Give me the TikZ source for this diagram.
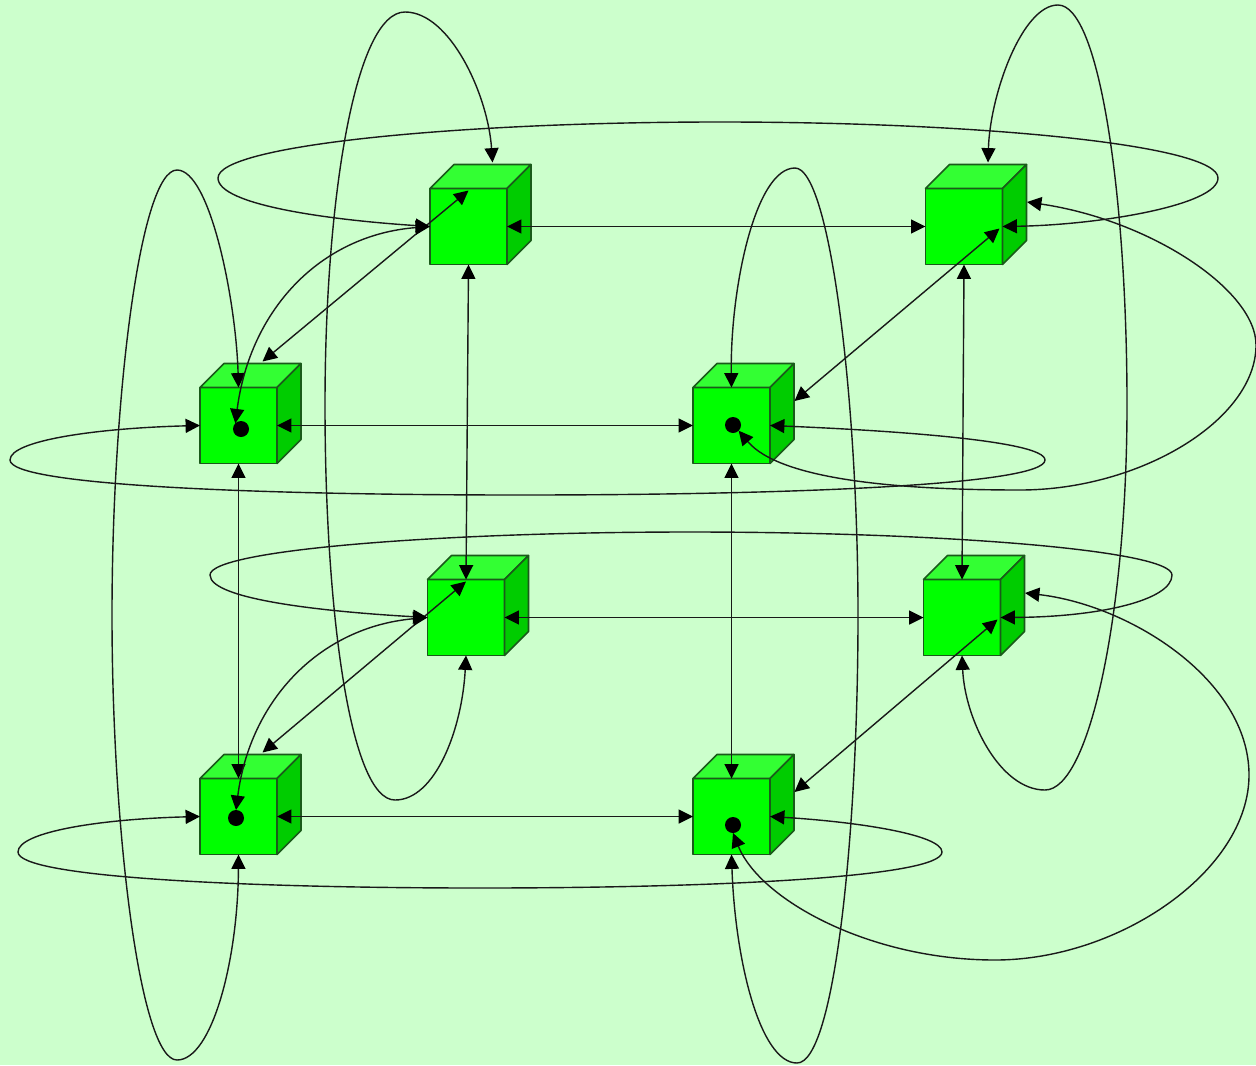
\documentclass[tikz,border=0pt]{standalone}
\usetikzlibrary{arrows.meta,calc}
\definecolor{bgc}{HTML}{CCFFCC}
\definecolor{frontc}{HTML}{00FF00}
\definecolor{topc}{HTML}{33FF33}
\definecolor{sidec}{HTML}{00CC00}
\definecolor{edgec}{HTML}{1A5A1A}
\tikzset{
  cubeface/.style={draw=edgec,line width=0.8pt,line join=round},
  cubefront/.style={cubeface,fill=frontc,rectangle,minimum width=38.5pt,minimum height=38pt,inner sep=0pt,outer sep=0pt},
  conn/.style={draw=black!90,line width=0.7pt,{Triangle[length=7.2pt,width=7pt,black]}-{Triangle[length=7.2pt,width=7pt,black]}},
  dotmark/.style={circle,fill=black,minimum size=8pt,inner sep=0pt,outer sep=0pt}
}
\newcommand{\cubeat}[3]{%
  \node[cubefront] (#1) at (#2,#3) {};
  \draw[cubeface,fill=topc] (#1.north west) -- ++(24,-24) -- ++(77,0) -- (#1.north east) -- cycle;
  \draw[cubeface,fill=sidec] (#1.north east) -- ++(24,-24) -- ++(0,76) -- (#1.south east) -- cycle;
  \coordinate (#1t) at ($(#1.center)+(24,-64)$);
  \coordinate (#1r) at ($(#1.center)+(63,-24.5)$);
  \coordinate (#1d) at ($(#1.north)+(0,2)$);
  \coordinate (#1e) at ($(#1.east)+(-3,2)$);
}
\begin{document}
\begin{tikzpicture}[x=0.5pt,y=-0.5pt]
\useasboundingbox (0,0) rectangle (1256,1065);
\fill[bgc] (0,0) rectangle (1256,1065);
\cubeat{n1}{468.5}{226.5}
\cubeat{n2}{964}{226.5}
\cubeat{n3}{238.5}{425.5}
\cubeat{n4}{731.5}{425.5}
\cubeat{n5}{466}{617.5}
\cubeat{n6}{962}{617.5}
\cubeat{n7}{238.5}{816.5}
\cubeat{n8}{731.5}{816.5}
\node[dotmark] (d3) at (241,429) {};
\node[dotmark] (d4) at (733,425) {};
\node[dotmark] (d7) at (236,818) {};
\node[dotmark] (d8) at (733,825) {};
% straight horizontal
\draw[conn] (n1.east) -- (n2.west);
\draw[conn] (n3.east) -- (n4.west);
\draw[conn] (n5.east) -- (n6.west);
\draw[conn] (n7.east) -- (n8.west);
% straight vertical
\draw[conn] (n3.south) -- (n7.north);
\draw[conn] (n4.south) -- (n8.north);
\draw[conn] (n1.south) -- (n5.north);
\draw[conn] (n2.south) -- (n6.north);
% diagonals
\draw[conn] (n1d) -- (n3t);
\draw[conn] (n2e) -- (n4r);
\draw[conn] (n5d) -- (n7t);
\draw[conn] (n6e) -- (n8r);
% tall loops
\draw[conn] (n1t) .. controls (488,95) and (450,12) .. (405,12)
  .. controls (355,12) and (325,200) .. (325,405)
  .. controls (325,610) and (350,800) .. (395,800)
  .. controls (435,800) and (462,730) .. (n5.south);
\draw[conn] (n2t) .. controls (990,95) and (1022,5) .. (1058,5)
  .. controls (1100,5) and (1127,200) .. (1127,405)
  .. controls (1127,610) and (1090,790) .. (1045,790)
  .. controls (1000,790) and (965,720) .. (n6.south);
\draw[conn] (n3.north) .. controls (236,300) and (210,170) .. (177,170)
  .. controls (140,170) and (112,400) .. (112,615)
  .. controls (112,830) and (140,1060) .. (177,1060)
  .. controls (212,1060) and (238,960) .. (n7.south);
\draw[conn] (n4.north) .. controls (730,290) and (755,168) .. (795,168)
  .. controls (830,168) and (858,400) .. (858,615)
  .. controls (858,830) and (835,1063) .. (797,1063)
  .. controls (760,1063) and (735,960) .. (n8.south);
% wide loops
\draw[conn] (n1.west) .. controls (330,220) and (218,205) .. (218,178)
  .. controls (218,145) and (460,122) .. (720,122)
  .. controls (980,122) and (1218,145) .. (1218,178)
  .. controls (1218,205) and (1100,225) .. (n2.east);
\draw[conn] (n3.west) .. controls (100,428) and (10,440) .. (10,460)
  .. controls (10,485) and (250,495) .. (520,495)
  .. controls (790,495) and (1045,485) .. (1045,460)
  .. controls (1045,440) and (880,430) .. (n4.east);
\draw[conn] (n5.west) .. controls (330,612) and (210,600) .. (210,575)
  .. controls (210,550) and (440,532) .. (690,532)
  .. controls (940,532) and (1172,550) .. (1172,575)
  .. controls (1172,600) and (1100,617) .. (n6.east);
\draw[conn] (n7.west) .. controls (100,819) and (18,832) .. (18,852)
  .. controls (18,877) and (240,888) .. (480,888)
  .. controls (720,888) and (942,877) .. (942,852)
  .. controls (942,835) and (860,822) .. (n8.east);
% curves to the dots
\draw[conn] (n1.west) .. controls (320,235) and (250,310) .. (d3.north west);
\draw[conn] (n5.west) .. controls (320,627) and (250,700) .. (d7.north);
\draw[conn] (n2r) .. controls (1150,220) and (1256,290) .. (1256,345)
  .. controls (1256,420) and (1140,490) .. (1020,490)
  .. controls (900,490) and (780,480) .. (d4.south east);
\draw[conn] (n6r) .. controls (1130,605) and (1249,680) .. (1249,775)
  .. controls (1249,870) and (1120,960) .. (995,960)
  .. controls (870,960) and (760,900) .. (d8.south);
\end{tikzpicture}
\end{document}
